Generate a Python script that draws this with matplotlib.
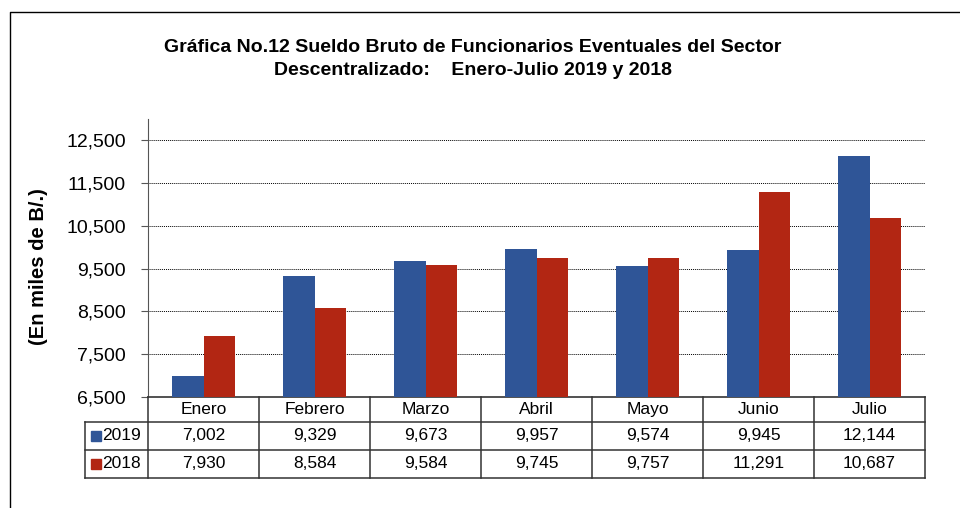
import matplotlib.pyplot as plt
from matplotlib.lines import Line2D
import matplotlib.transforms as mtransforms

plt.rcParams['font.family'] = ['Liberation Sans', 'DejaVu Sans']

months = ['Enero', 'Febrero', 'Marzo', 'Abril', 'Mayo', 'Junio', 'Julio']
sueldo_2019 = [7002, 9329, 9673, 9957, 9574, 9945, 12144]
sueldo_2018 = [7930, 8584, 9584, 9745, 9757, 11291, 10687]
series_labels = ['2019', '2018']

blue = '#2F5597'
red = '#B22613'

fig = plt.figure(figsize=(9.6, 5.08), dpi=100)
ax = fig.add_axes([148 / 960, 1 - 397 / 508, 777 / 960, 278 / 508])

x = list(range(len(months)))
w = 0.285
ax.bar([i - w / 2 for i in x], sueldo_2019, w, bottom=0, color=blue, zorder=3)
ax.bar([i + w / 2 for i in x], sueldo_2018, w, bottom=0, color=red, zorder=3)

ax.set_ylim(6500, 13000)
ax.set_xlim(-0.5, len(months) - 0.5)
ax.set_yticks(range(6500, 13000, 1000))
ax.set_yticklabels([f'{v:,}' for v in range(6500, 13000, 1000)], fontsize=14)
ax.set_xticks([])
ax.grid(axis='y', color='black', linestyle=(0, (1, 1)), linewidth=0.7, zorder=0)
ax.tick_params(axis='y', direction='out', length=5, color='#555555', pad=11)
for s in ['top', 'right']:
    ax.spines[s].set_visible(False)
ax.spines['left'].set_color('#555555')
ax.spines['bottom'].set_color('#333333')
ax.spines['bottom'].set_linewidth(1.2)

ax.set_ylabel('(En miles de B/.)', fontsize=14.5, fontweight='bold')
ax.yaxis.set_label_coords(-100 / 777, 0.47)

# data table below the axes
trans = mtransforms.blended_transform_factory(ax.transData, ax.transAxes)
row_h = 28 / 278
head_h = 25 / 278
y_head = -head_h
y_r1 = y_head - row_h
y_r2 = y_r1 - row_h
left_x = -0.5 - 63 / 111
right_x = len(months) - 0.5
lc = '#333333'

def hline(x0, x1, y):
    ax.add_line(Line2D([x0, x1], [y, y], transform=trans, color=lc, lw=1.1, clip_on=False))

def vline(xx, y0, y1):
    ax.add_line(Line2D([xx, xx], [y0, y1], transform=trans, color=lc, lw=1.1, clip_on=False))

hline(left_x, right_x, y_head)
hline(left_x, right_x, y_r1)
hline(left_x, right_x, y_r2)
for i in range(len(months) + 1):
    vline(i - 0.5, 0, y_r2)
vline(left_x, y_head, y_r2)

fs = 12.5
for i, m in enumerate(months):
    ax.text(i, y_head / 2, m, transform=trans, ha='center', va='center', fontsize=fs)
    ax.text(i, (y_head + y_r1) / 2, f'{sueldo_2019[i]:,}', transform=trans,
            ha='center', va='center', fontsize=fs)
    ax.text(i, (y_r1 + y_r2) / 2, f'{sueldo_2018[i]:,}', transform=trans,
            ha='center', va='center', fontsize=fs)

for lab, col, yc in [(series_labels[0], blue, (y_head + y_r1) / 2),
                     (series_labels[1], red, (y_r1 + y_r2) / 2)]:
    ax.plot([left_x + 11 / 111], [yc], marker='s', markersize=6.5, color=col,
            transform=trans, clip_on=False, linestyle='none')
    ax.text(left_x + 17 / 111, yc, lab, transform=trans, ha='left', va='center', fontsize=fs)

fig.suptitle('Gráfica No.12 Sueldo Bruto de Funcionarios Eventuales del Sector\n'
             'Descentralizado:    Enero-Julio 2019 y 2018',
             x=473 / 960, y=1 - 39 / 508, fontsize=14, fontweight='bold',
             va='top', linespacing=1.45)

# outer frame (top and left edges)
fig.add_artist(Line2D([10 / 960, 10 / 960, 1], [0, 1 - 12 / 508, 1 - 12 / 508],
                      transform=fig.transFigure, color='black', lw=1.0))

fig.savefig('out.png', dpi=100)
